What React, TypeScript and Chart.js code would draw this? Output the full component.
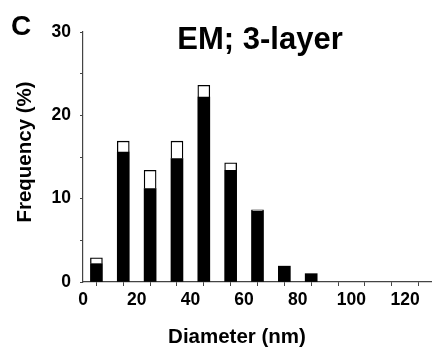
import React, { useEffect, useRef } from "react";
import { Chart, registerables } from "chart.js";

Chart.register(...registerables);

// Bin centres (nm)
const diameters = [5, 15, 25, 35, 45, 55, 65, 75, 85];
// Lower (black) part of each bar, %
const blackValues = [2.2, 15.6, 11.2, 14.8, 22.2, 13.4, 8.5, 1.9, 1.0];
// Upper (white) part of each bar, %
const whiteValues = [0.7, 1.3, 2.2, 2.1, 1.4, 0.9, 0.15, 0, 0];

const xTickLabels = [0, 20, 40, 60, 80, 100, 120];
const yTickLabels = [0, 10, 20, 30];

const panelLetter = "C";
const chartTitle = "EM; 3-layer";
const xTitle = "Diameter (nm)";
const yTitle = "Frequency (%)";

const FONT = "'Liberation Sans', Arial, Helvetica, sans-serif";

const textPlugin = {
  id: "textPlugin",
  afterDraw(chart: any) {
    const { ctx, chartArea } = chart;
    ctx.save();
    ctx.fillStyle = "#000";
    // panel letter
    ctx.font = `bold 28px ${FONT}`;
    ctx.textAlign = "left";
    ctx.textBaseline = "alphabetic";
    ctx.fillText(panelLetter, 11, 35);
    // title
    ctx.font = `bold 31px ${FONT}`;
    ctx.textAlign = "center";
    ctx.fillText(chartTitle, chartArea.left + 177, chartArea.top + 17);
    // x title
    ctx.font = `bold 20.5px ${FONT}`;
    ctx.fillText(xTitle, chartArea.left + 154, chartArea.bottom + 61);
    // y title
    ctx.translate(31, chartArea.top + 120);
    ctx.rotate(-Math.PI / 2);
    ctx.fillText(yTitle, 0, 0);
    ctx.restore();
  },
};

export default function App() {
  const ref = useRef<HTMLCanvasElement | null>(null);
  useEffect(() => {
    if (!ref.current) return;
    const chart = new Chart(ref.current, {
      type: "bar",
      data: {
        datasets: [
          {
            data: diameters.map((d, i) => ({ x: d, y: blackValues[i] })),
            backgroundColor: "#000",
            borderColor: "#000",
            borderWidth: 0,
            barThickness: 12,
          },
          {
            data: diameters.map((d, i) => ({ x: d, y: whiteValues[i] })),
            backgroundColor: "#fff",
            borderColor: "#000",
            borderWidth: 1.3,
            barThickness: 12,
          },
        ],
      },
      options: {
        animation: false,
        responsive: false,
        maintainAspectRatio: false,
        layout: { padding: { top: 32, right: 0, left: 0, bottom: 0 } },
        plugins: {
          legend: { display: false },
          tooltip: { enabled: false },
          title: { display: false },
        },
        scales: {
          x: {
            type: "linear",
            stacked: true,
            min: 0,
            max: 130,
            offset: false,
            afterFit: (s: any) => {
              s.height = 71;
              s.paddingRight = 0;
              s.paddingLeft = 0;
            },
            afterBuildTicks: (s: any) => {
              const t = [];
              for (let v = 0; v <= 130; v += 10) t.push({ value: v });
              s.ticks = t;
            },
            grid: {
              display: true,
              drawOnChartArea: false,
              drawTicks: true,
              tickLength: 4,
              color: "#444",
              tickColor: "#444",
            },
            border: { display: true, color: "#444", width: 1.2 },
            ticks: {
              autoSkip: false,
              maxRotation: 0,
              padding: 4,
              color: "#000",
              font: { family: FONT, size: 17.5, weight: "bold" },
              callback: (v: any) => (xTickLabels.includes(v) ? String(v) : ""),
            },
          },
          y: {
            stacked: true,
            min: 0,
            max: 30,
            afterFit: (s: any) => {
              s.width = 83;
              s.paddingTop = 0;
              s.paddingBottom = 0;
            },
            afterBuildTicks: (s: any) => {
              const t = [];
              for (let v = 0; v <= 30; v += 5) t.push({ value: v });
              s.ticks = t;
            },
            grid: {
              display: true,
              drawOnChartArea: false,
              drawTicks: true,
              tickLength: 3,
              color: "#444",
              tickColor: "#444",
            },
            border: { display: true, color: "#444", width: 1.2 },
            ticks: {
              autoSkip: false,
              padding: 9,
              color: "#000",
              font: { family: FONT, size: 17.5, weight: "bold" },
              callback: (v: any) => (yTickLabels.includes(v) ? String(v) : ""),
            },
          },
        },
      },
      plugins: [textPlugin],
    });
    return () => chart.destroy();
  }, []);
  return (
    <div style={{ position: "fixed", left: 0, top: 0, width: 432, height: 353, background: "#fff" }}>
      <canvas ref={ref} width={432} height={353} style={{ display: "block" }} />
    </div>
  );
}
